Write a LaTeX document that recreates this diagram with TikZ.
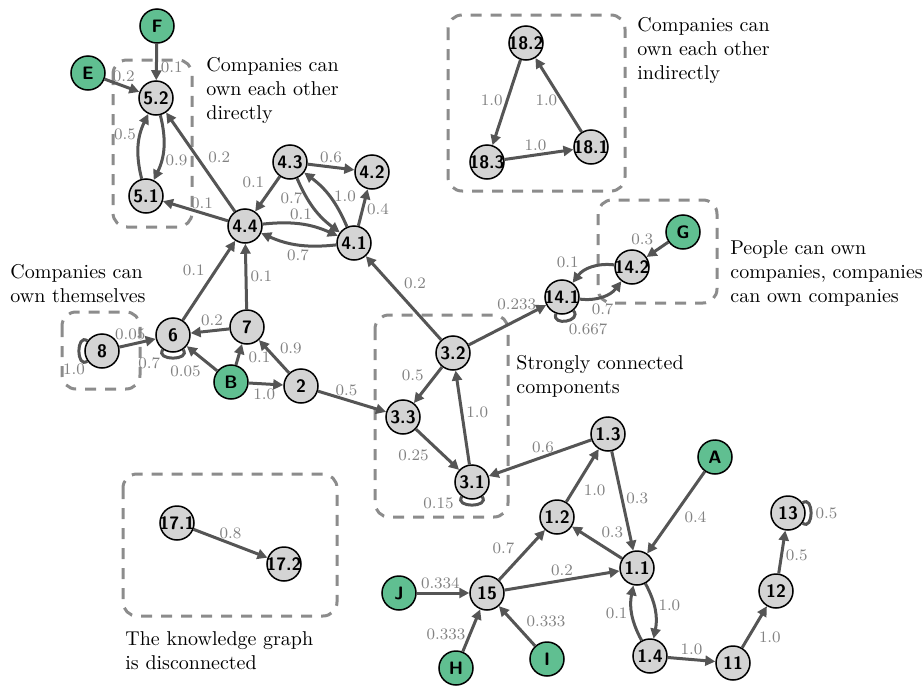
\documentclass[tikz,border=0pt]{standalone}
\usepackage{tikz, amsmath, amssymb}
\usetikzlibrary{arrows.meta}

\definecolor{edgegray}{RGB}{85,85,85}
\definecolor{labelgray}{RGB}{130,130,130}
\definecolor{boxgray}{RGB}{140,140,140}
\definecolor{nodegray}{RGB}{212,212,212}
\definecolor{persongreen}{RGB}{96,191,145}
\newcommand{\ovr}[1]{\makebox[0pt]{#1}}

\begin{document}
\begin{tikzpicture}[x=0.5pt, y=0.5pt,
	company/.style={circle, draw, fill=nodegray, line width=0.75pt, minimum size=17pt, inner sep=0pt, font=\sffamily\bfseries\small},
	person/.style={company, fill=persongreen},
	edge/.style={draw=edgegray, line width=1.5pt, -{Triangle[length=5pt, width=5pt]}},
	selfloop/.style={draw=edgegray, line width=1.5pt, looseness=1, min distance=7pt},
	lbl/.style={font=\footnotesize, text=labelgray, inner sep=1.5pt},
	note/.style={align=left, anchor=north west, inner sep=0pt},
	groupbox/.style={draw=boxgray, line width=1.5pt, dash pattern=on 5.5pt off 4.5pt, rounded corners=7pt}]
	\useasboundingbox (0,0) rectangle (923,-686);

	% dashed groups
	\draw[groupbox] (113,-60) rectangle (192,-227);
	\draw[groupbox] (62,-312) rectangle (140,-389);
	\draw[groupbox] (375,-315) rectangle (508,-517);
	\draw[groupbox] (448,-15) rectangle (625,-191);
	\draw[groupbox] (598,-200) rectangle (717,-303);
	\draw[groupbox] (123,-474) rectangle (337,-616);

	% notes
	\node[note] (t1) at (206,-57) {Companies can\\own each other\\directly};
	\node[note] (t2) at (10,-264) {Companies can\\own themselves};
	\node[note] (t3) at (516,-355) {Strongly connected\\components};
	\node[note] (t4) at (637,-17) {Companies can\\own each other\\indirectly};
	\node[note] (t5) at (730,-240) {People can own\\companies, companies\\can own companies};
	\node[note] (t6) at (125,-631) {The knowledge graph\\is disconnected};

	% owners and companies
	\node[person] (pF) at (157,-26) {F};
	\node[person] (pE) at (88,-73) {E};
	\node[company] (c5p2) at (156,-98) {5.2};
	\node[company] (c5p1) at (146,-196) {5.1};
	\node[company] (c4p4) at (245,-226) {4.4};
	\node[company] (c4p3) at (290,-162) {4.3};
	\node[company] (c4p2) at (372,-172) {4.2};
	\node[company] (c4p1) at (354,-243) {4.1};
	\node[company] (c8) at (102,-351) {8};
	\node[company] (c6) at (173,-335) {6};
	\node[company] (c7) at (247,-327) {7};
	\node[person] (pB) at (231,-382) {B};
	\node[company] (c2) at (301,-386) {2};
	\node[company] (c3p2) at (453,-353) {3.2};
	\node[company] (c3p3) at (403,-417) {3.3};
	\node[company] (c3p1) at (472,-482) {3.1};
	\node[company] (c14p1) at (562,-297) {\ovr{14.1}};
	\node[company] (c14p2) at (632,-267) {\ovr{14.2}};
	\node[person] (pG) at (683,-232) {G};
	\node[company] (c18p2) at (526,-43) {\ovr{18.2}};
	\node[company] (c18p3) at (487,-162) {\ovr{18.3}};
	\node[company] (c18p1) at (591,-147) {\ovr{18.1}};
	\node[company] (c17p1) at (177,-523) {\ovr{17.1}};
	\node[company] (c17p2) at (284,-564) {\ovr{17.2}};
	\node[company] (c1p3) at (608,-434) {1.3};
	\node[company] (c1p2) at (557,-517) {1.2};
	\node[company] (c1p1) at (637,-568) {1.1};
	\node[person] (pA) at (715,-457) {A};
	\node[company] (c15) at (487,-593) {15};
	\node[person] (pJ) at (399,-593) {J};
	\node[person] (pH) at (456,-668) {H};
	\node[person] (pI) at (547,-659) {I};
	\node[company] (c1p4) at (650,-656) {1.4};
	\node[company] (c11) at (733,-663) {11};
	\node[company] (c12) at (776,-591) {12};
	\node[company] (c13) at (788,-513) {13};

	% ownership
	\draw[edge] (pF) -- node[lbl, pos=.66, right] {0.1} (c5p2);
	\draw[edge] (pE) -- node[lbl, pos=.55, above] {0.2} (c5p2);
	\draw[edge] (c5p2) to[bend left=20] node[lbl, pos=.7, right] {0.9} (c5p1);
	\draw[edge] (c5p1) to[bend left=20] node[lbl, pos=.68, left] {0.5} (c5p2);
	\draw[edge] (c4p4) -- node[lbl, pos=.45, above right] {0.2} (c5p2);
	\draw[edge] (c4p4) -- node[lbl, pos=.4, above] {0.1} (c5p1);
	\draw[edge] (c4p3) -- node[lbl, pos=.45, above left] {0.1} (c4p4);
	\draw[edge] (c4p3) -- node[lbl, pos=.5, above] {0.6} (c4p2);
	\draw[edge] (c4p3) to[bend right=15] node[lbl, pos=.3, left] {0.7} (c4p1);
	\draw[edge] (c4p1) to[bend right=15] node[lbl, pos=.5, right] {1.0} (c4p3);
	\draw[edge] (c4p4) to[bend left=15] node[lbl, pos=.5, above] {0.1} (c4p1);
	\draw[edge] (c4p1) to[bend left=15] node[lbl, pos=.5, below] {0.7} (c4p4);
	\draw[edge] (c4p1) -- node[lbl, pos=.45, right] {0.4} (c4p2);
	\draw[edge] (c6) -- node[lbl, pos=.5, above left] {0.1} (c4p4);
	\draw[edge] (c7) -- node[lbl, pos=.5, right] {0.1} (c4p4);
	\draw[edge] (c7) -- node[lbl, pos=.45, above] {0.2} (c6);
	\draw[edge] (c8) -- node[lbl, pos=.3, above] {0.05} (c6);
	\draw[selfloop] (c8) to[out=145, in=215] node[lbl, pos=1, below left=-1pt] {1.0} (c8);
	\draw[selfloop] (c6) to[out=305, in=235] node[lbl, pos=.8, below left=-1pt] {0.7} (c6);
	\draw[edge] (pB) -- node[lbl, pos=.4, below left] {0.05} (c6);
	\draw[edge] (pB) -- node[lbl, pos=.35, right=3pt] {0.1} (c7);
	\draw[edge] (pB) -- node[lbl, pos=.45, below] {1.0} (c2);
	\draw[edge] (c2) -- node[lbl, pos=.45, above right] {0.9} (c7);
	\draw[edge] (c2) -- node[lbl, pos=.42, above] {0.5} (c3p3);
	\draw[edge] (c3p2) -- node[lbl, pos=.55, above right] {0.2} (c4p1);
	\draw[edge] (c3p2) -- node[lbl, pos=.62, above=3pt] {0.233} (c14p1);
	\draw[edge] (c3p2) -- node[lbl, pos=.5, above left] {0.5} (c3p3);
	\draw[edge] (c3p3) -- node[lbl, pos=.4, below left] {0.25} (c3p1);
	\draw[edge] (c3p1) -- node[lbl, pos=.55, right] {1.0} (c3p2);
	\draw[selfloop] (c3p1) to[out=305, in=235] node[lbl, pos=.7, left=3pt] {0.15} (c3p1);
	\draw[edge] (c1p3) -- node[lbl, pos=.47, above] {0.6} (c3p1);
	\draw[edge] (c1p3) -- node[lbl, pos=.47, right] {0.3} (c1p1);
	\draw[edge] (c1p2) -- node[lbl, pos=.4, below right] {1.0} (c1p3);
	\draw[edge] (c1p1) -- node[lbl, pos=.5, above right] {0.3} (c1p2);
	\draw[edge] (c15) -- node[lbl, pos=.43, above left] {0.7} (c1p2);
	\draw[edge] (c15) -- node[lbl, pos=.5, above] {0.2} (c1p1);
	\draw[edge] (pA) -- node[lbl, pos=.43, below right] {0.4} (c1p1);
	\draw[edge] (pJ) -- node[lbl, pos=.45, above] {0.334} (c15);
	\draw[edge] (pH) -- node[lbl, pos=.4, left] {0.333} (c15);
	\draw[edge] (pI) -- node[lbl, pos=.36, above right] {0.333} (c15);
	\draw[edge] (c1p1) to[bend left=20] node[lbl, pos=.4, right] {1.0} (c1p4);
	\draw[edge] (c1p4) to[bend left=20] node[lbl, pos=.5, left] {0.1} (c1p1);
	\draw[edge] (c1p4) -- node[lbl, pos=.5, above] {1.0} (c11);
	\draw[edge] (c11) -- node[lbl, pos=.5, below right] {1.0} (c12);
	\draw[edge] (c12) -- node[lbl, pos=.42, right] {0.5} (c13);
	\draw[selfloop] (c13) to[out=35, in=325] node[lbl, pos=.5, right] {0.5} (c13);
	\draw[selfloop] (c14p1) to[out=310, in=250] node[lbl, pos=.5, below right=-1pt] {0.667} (c14p1);
	\draw[edge] (c14p1) to[bend right=30] node[lbl, pos=.15, below right] {0.7} (c14p2);
	\draw[edge] (c14p2) to[bend right=30] node[lbl, pos=.7, above left] {0.1} (c14p1);
	\draw[edge] (pG) -- node[lbl, pos=.5, above left] {0.3} (c14p2);
	\draw[edge] (c18p2) -- node[lbl, pos=.48, left] {1.0} (c18p3);
	\draw[edge] (c18p3) -- node[lbl, pos=.45, above] {1.0} (c18p1);
	\draw[edge] (c18p1) -- node[lbl, pos=.43, left] {1.0} (c18p2);
	\draw[edge] (c17p1) -- node[lbl, pos=.5, above] {0.8} (c17p2);
\end{tikzpicture}
\end{document}
